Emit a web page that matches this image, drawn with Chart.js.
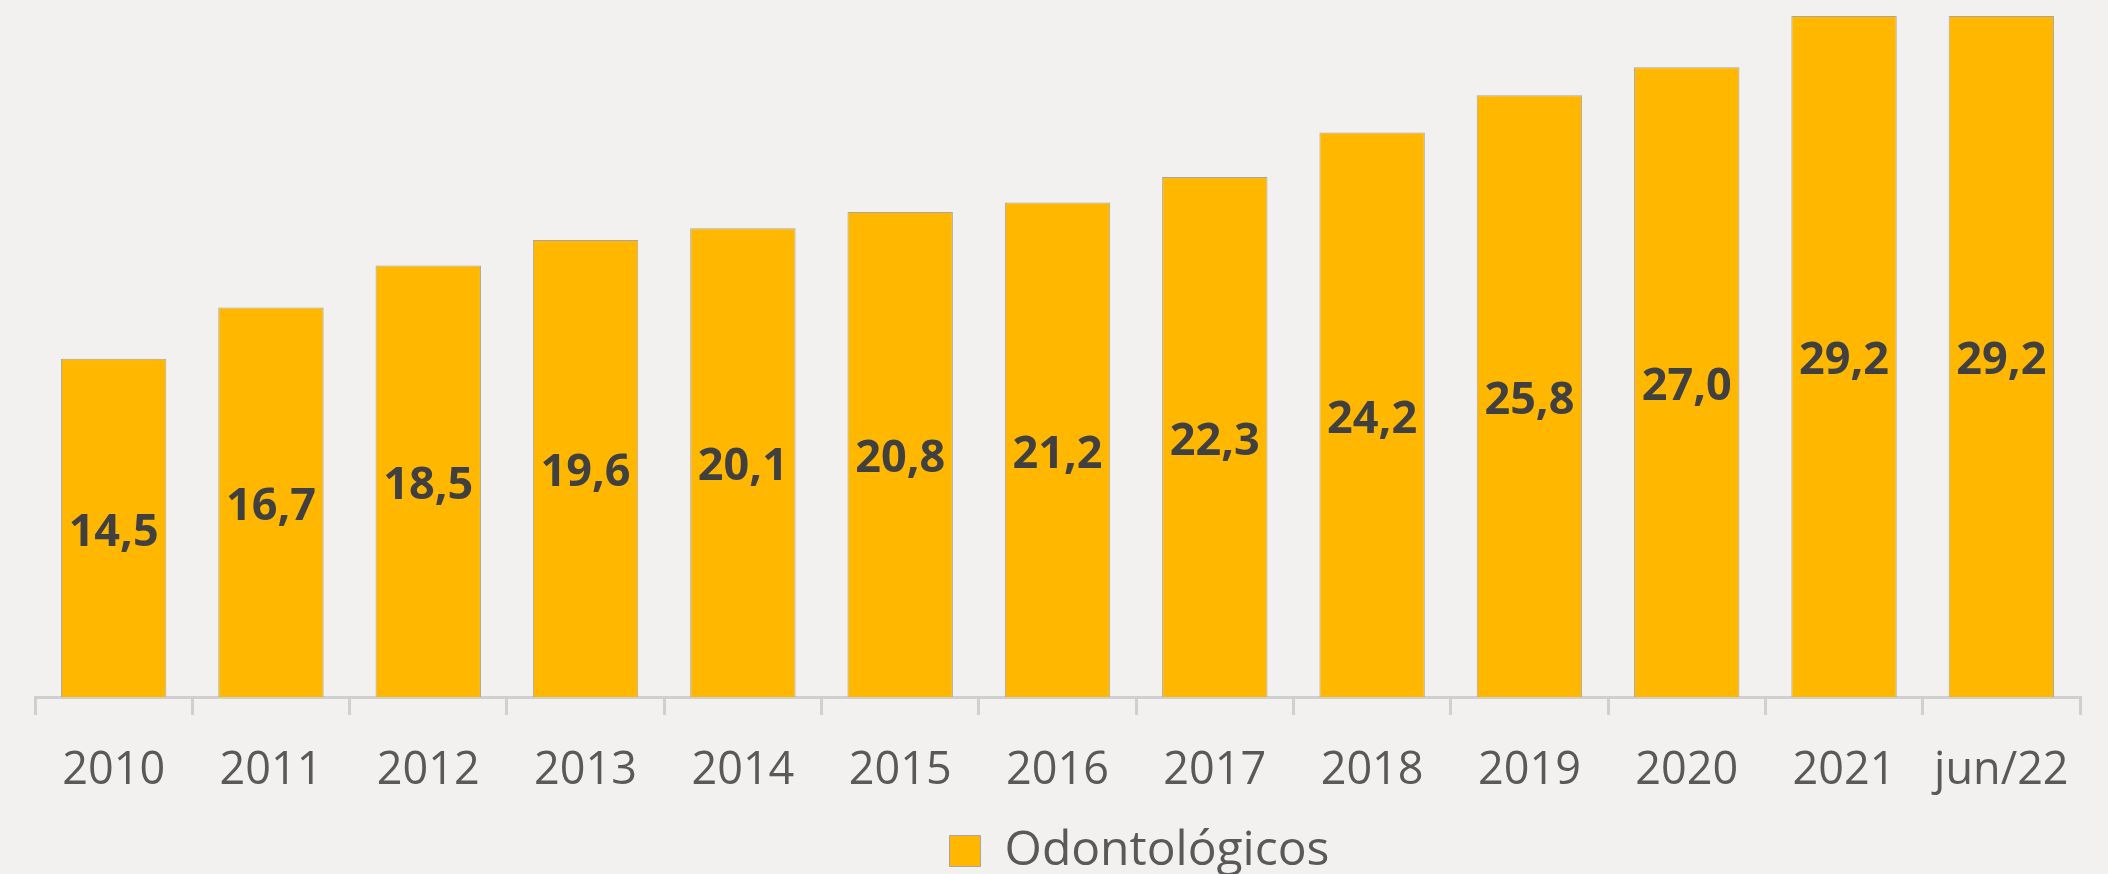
<!DOCTYPE html>
<html>
<head>
<meta charset="utf-8">
<script src="https://cdn.jsdelivr.net/npm/chart.js@4"></script>
<style>
  html, body { margin: 0; padding: 0; background: #f2f1f0; }
  #wrap { width: 2108px; height: 874px; }
</style>
</head>
<body>
<div id="wrap"><canvas id="myChart" width="2108" height="874"></canvas></div>
<script>
const categories = ['2010', '2011', '2012', '2013', '2014', '2015', '2016', '2017', '2018', '2019', '2020', '2021', 'jun/22'];
const odontologicos = [14.5, 16.7, 18.5, 19.6, 20.1, 20.8, 21.2, 22.3, 24.2, 25.8, 27.0, 29.2, 29.2];
const seriesName = 'Odontológicos';

// draws the value inside each bar, in the middle
const barValues = {
    id: 'barValues',
    afterDatasetsDraw(chart) {
        const ctx = chart.ctx;
        const meta = chart.getDatasetMeta(0);
        ctx.save();
        ctx.font = 'bold 45px "Open Sans"';
        ctx.fillStyle = '#404040';
        ctx.textAlign = 'center';
        ctx.textBaseline = 'middle';
        meta.data.forEach(function (bar, i) {
            const txt = odontologicos[i].toFixed(1).replace('.', ',');
            ctx.fillText(txt, bar.x, (bar.y + bar.base) / 2 + 5);
        });
        ctx.restore();
    }
};

// the legend sits a bit right of centre in the original
const legendShift = {
    id: 'legendShift',
    afterLayout(chart) {
        if (chart.legend) {
            chart.legend.left += 82;
            chart.legend.right += 82;
        }
    }
};

const data = {
    labels: categories,
    datasets: [{
        label: seriesName,
        data: odontologicos,
        backgroundColor: '#ffb700',
        borderColor: '#a6a6a6',
        borderWidth: 1,
        categoryPercentage: 1,
        barPercentage: 0.67
    }]
};

const config = {
    type: 'bar',
    data: data,
    plugins: [barValues, legendShift],
    options: {
        responsive: false,
        animation: false,
        layout: {
            padding: { left: 35, right: 28, top: 16, bottom: -11 }
        },
        plugins: {
            tooltip: { enabled: false },
            legend: {
                position: 'bottom',
                labels: {
                    font: { family: '"Open Sans"', size: 48 },
                    color: '#595959',
                    boxWidth: 31,
                    boxHeight: 31,
                    padding: 0
                }
            }
        },
        scales: {
            x: {
                offset: true,
                grid: {
                    display: true,
                    offset: true,
                    drawOnChartArea: false,
                    color: '#cfcfcf',
                    lineWidth: 3,
                    tickLength: 18
                },
                border: { color: '#cfcfcf', width: 3 },
                ticks: {
                    font: { family: '"Open Sans"', size: 45 },
                    color: '#595959',
                    padding: 29,
                    maxRotation: 0
                }
            },
            y: {
                display: false,
                min: 0,
                max: 29.2
            }
        }
    }
};

new Chart(document.getElementById('myChart'), config);
</script>
</body>
</html>
